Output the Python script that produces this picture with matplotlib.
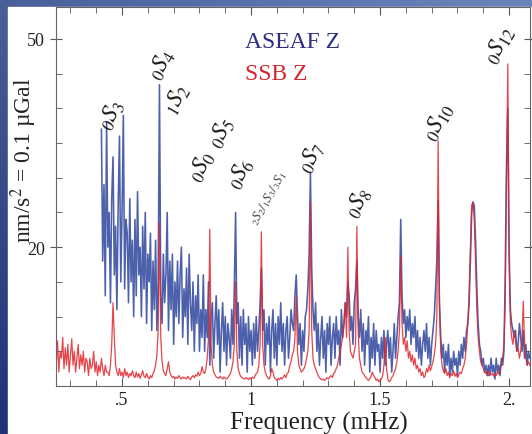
import numpy as np
import matplotlib.pyplot as plt
from matplotlib.ticker import MultipleLocator, FixedLocator, FixedFormatter

plt.rcParams['font.family'] = ['Liberation Serif', 'DejaVu Serif']
plt.rcParams['mathtext.fontset'] = 'stix'

# spectra sampled every 0.005 mHz
STEP = 0.005
ASEAF_START = 0.42
SSB_START = 0.245

# ASEAF Z amplitude (nm/s^2), 0.42 .. 2.08 mHz
aseaf_z = [
    37, 18, 29, 13, 38, 20, 25, 12, 27, 33, 16, 23, 11, 26, 36, 15, 25, 39, 14, 24,
    22, 12, 27, 15, 21, 10, 24, 13, 28, 16, 20, 10, 23, 14, 25, 9, 19, 15, 22, 8,
    18, 11, 21, 8, 15, 43.4, 13, 9, 19, 12, 16, 25, 8, 18, 11, 19, 6, 15, 10, 18,
    9, 16, 20, 7, 14, 10, 17, 6, 19, 12, 8, 15, 5, 13, 9, 16, 5, 11, 7, 16,
    5, 11, 7, 15, 3, 10, 12, 4, 9, 13, 6, 11, 2, 8, 12, 5, 10, 3, 9, 7,
    4, 11, 6, 14, 25, 9, 12, 4, 10, 3, 11, 6, 9, 2, 10, 5, 8, 3, 9, 4,
    10, 5, 8, 12, 17, 8, 11, 3, 9, 6, 10, 2, 8, 11, 4, 9, 3, 10, 6, 12,
    5, 9, 3, 8, 10, 4, 7, 11, 9, 8, 13, 16, 10, 6, 9, 3, 8, 5, 10, 11,
    14, 19, 30.8, 17, 11, 8, 12, 5, 9, 3, 7, 10, 4, 8, 2, 9, 6, 10, 3, 7,
    9, 4, 10, 6, 8, 3, 11, 7, 9, 12, 10, 15, 13, 8, 10, 6, 12, 14, 18, 10,
    7, 11, 5, 9, 3, 8, 6, 10, 2, 7, 4, 9, 3, 8, 5, 6, 2, 7, 4, 8,
    3, 6, 8, 4, 7, 2, 5, 9, 4, 7, 10, 12, 24, 13, 9, 11, 7, 10, 8, 11,
    6, 9, 7, 10, 5, 8, 4, 7, 3, 6, 8, 5, 9, 4, 7, 3, 6, 8, 10, 14,
    18, 26.7, 12, 7, 4, 6, 2, 5, 3, 6, 1.5, 4, 2, 5, 3, 4, 1.5, 5, 3, 6,
    4, 7, 5, 8, 9, 12, 18, 25, 26.5, 26, 21, 14, 9, 6, 5, 3, 4, 2, 3, 1.5,
    3, 1.5, 4, 2, 3, 1, 4, 2, 3, 1.5, 4, 3, 5, 16, 32, 40, 20, 11, 9, 8,
    7, 8, 5, 6, 9, 7, 5, 8, 4, 6, 3, 5, 4,
]

# SSB Z amplitude (nm/s^2), 0.245 .. 2.08 mHz
ssb_z = [
    3, 6.5, 2, 5, 4, 7, 2.5, 5.5, 3, 6, 2, 4.5, 6.8, 3, 5, 2, 4, 6, 2.5, 4.5,
    3, 5, 2, 4, 3.5, 1.5, 4, 2.5, 3, 5, 2, 3.5, 1.5, 3, 2, 4, 2.5, 1.5, 3, 2,
    2, 1.5, 3, 6, 12, 7, 3, 2, 1.5, 2.5, 1.5, 2, 1.2, 2.5, 1.5, 2, 1.2, 1.8, 1.5, 2.2,
    1.5, 1.2, 2, 1.3, 1.8, 1.1, 1.6, 2.2, 1.4, 1.2, 1.8, 1.3, 1, 1.5, 1.2, 1.8, 2.2, 3, 4.5, 8,
    23.5, 7, 3.5, 2.2, 1.8, 1.5, 2.5, 3.5, 2, 1.5, 1.2, 1.4, 1, 1.3, 1.1, 1.5, 1.2, 1, 1.3, 1.1,
    1.2, 1, 1.4, 1.1, 0.9, 1.3, 1.5, 1.2, 1.6, 1.4, 2, 1.5, 1.8, 2.8, 2, 1.8, 2.5, 4, 7, 22.6,
    6, 3, 2, 1.6, 1.3, 1.2, 1.1, 1.4, 1.2, 1, 1.3, 1.1, 1, 1.2, 1.5, 1.8, 2.5, 3.5, 6, 15,
    5, 2.5, 1.8, 1.4, 1.2, 1.1, 1, 1.2, 1.1, 0.9, 1.2, 1, 1.3, 1.1, 1.4, 1.8, 2, 3, 6, 22.2,
    6, 3, 2, 1.5, 1.2, 1, 1.5, 2.5, 2, 1.2, 1, 0.8, 1.1, 0.9, 1.2, 1, 1.3, 1.6, 1.2, 1.8,
    2, 3, 3.5, 4.5, 5, 7, 13, 5, 3, 2.5, 2, 2.2, 2.5, 3, 4, 5, 8, 26.5, 8, 4,
    3, 2.5, 2, 1.5, 1.2, 1, 0.9, 1, 0.8, 1, 1.2, 1, 1.3, 1.5, 1.2, 1.8, 2, 2.5, 3, 4,
    5, 6, 7, 9, 12, 7, 20, 8, 5, 4.5, 4, 5, 6, 23, 8, 4, 3, 2, 1.8, 1.5,
    1.2, 1, 0.8, 1.1, 1.4, 2, 1.5, 1.2, 0.8, 1, 0.6, 0.8, 1, 1.5, 3, 7, 2.5, 1, 0.6, 0.8,
    1.2, 1.5, 2, 2.5, 3.5, 5, 8, 18.7, 9, 6, 7, 5, 6.5, 4, 5, 3.5, 4.5, 3, 4, 2.5,
    3, 2, 2.5, 1.5, 2, 1.2, 1.5, 2.5, 2, 3, 2.2, 2.8, 3.5, 4.5, 6, 10, 35.3, 12, 5, 3,
    2.2, 1.8, 2.5, 1.5, 2, 1.2, 1.8, 1.5, 2.2, 1.4, 1.8, 1.2, 1.6, 2, 1.8, 2.5, 3, 4, 6, 9,
    13, 20, 26, 26.5, 24, 18, 11, 7, 5, 3.5, 3, 2.5, 2, 1.8, 2.2, 1.5, 2, 1.6, 1.8, 1.4,
    1.8, 1.5, 2, 1.7, 2.5, 3, 4, 6, 12, 30, 46.4, 18, 9, 7, 6, 8, 6.5, 5, 5.5, 4,
    5, 7, 12.2, 6, 4, 3, 3.5, 3,
]

# mode labels: (text, frequency, height, fontsize)
mode_labels = [
    (r'${}_{0}S_{3}$', 0.461, 39.2, 17),
    (r'${}_{0}S_{4}$', 0.655, 46.4, 17),
    (r'${}_{1}S_{2}$', 0.713, 41.4, 17),
    (r'${}_{0}S_{0}$', 0.810, 31.7, 17),
    (r'${}_{0}S_{5}$', 0.884, 36.6, 17),
    (r'${}_{0}S_{6}$', 0.961, 30.8, 17),
    (r'${}_{2}S_{2}/{}_{1}S_{3}/{}_{3}S_{1}$', 1.066, 27.2, 9.5),
    (r'${}_{0}S_{7}$', 1.236, 33.0, 17),
    (r'${}_{0}S_{8}$', 1.415, 26.5, 17),
    (r'${}_{0}S_{10}$', 1.729, 38.2, 17),
    (r'${}_{0}S_{12}$', 1.965, 49.3, 17),
]

f_aseaf = ASEAF_START + STEP * np.arange(len(aseaf_z))
f_ssb = SSB_START + STEP * np.arange(len(ssb_z))

W, H = 532, 435
fig = plt.figure(figsize=(W / 100, H / 100), dpi=100)

# slide background: blue frame on top/left, white panel
bg = fig.add_axes([0, 0, 1, 1])
gy, gx = np.mgrid[0:1:200j, 0:1:200j]
grad = 0.55 * gy + 0.45 * (1 - gx)
bg.imshow(grad, cmap=plt.matplotlib.colors.LinearSegmentedColormap.from_list(
    'slide', ['#6d84bb', '#1d3374']), extent=[0, 1, 0, 1], aspect='auto')
bg.add_patch(plt.Rectangle((8 / W, 0), 1, 1 - 8 / H, color='white'))
bg.set_xlim(0, 1)
bg.set_ylim(0, 1)
bg.axis('off')

ax = fig.add_axes([56 / W, 48 / H, (530 - 56) / W, (387 - 8) / H])
ax.plot(f_aseaf, aseaf_z, color='#3a4fa3', lw=1.15, alpha=0.9)
ax.plot(f_ssb, ssb_z, color='#e0252b', lw=0.9, alpha=0.85)

ax.set_xlim(0.244, 2.081)
ax.set_ylim(0, 54.6)

ax.xaxis.set_major_locator(FixedLocator([0.5, 1.0, 1.5, 2.0]))
ax.xaxis.set_major_formatter(FixedFormatter(['.5', '1', '1.5', '2.']))
ax.xaxis.set_minor_locator(MultipleLocator(0.1))
ax.yaxis.set_major_locator(FixedLocator([20, 50]))
ax.yaxis.set_minor_locator(MultipleLocator(5))

ax.tick_params(which='both', direction='in', top=True, right=True,
               colors='#555555', labelcolor='#222222', labelsize=13)
ax.tick_params(which='major', length=6)
ax.tick_params(which='minor', length=4)
ax.tick_params(axis='y', which='major', direction='inout', length=9)
for s in ax.spines.values():
    s.set_color('#666666')
    s.set_linewidth(0.8)

for txt, fx, fy, fs in mode_labels:
    ax.text(fx, fy, txt, fontsize=fs, rotation=60, ha='center', va='center',
            color='#1a1a1a' if fs > 10 else '#444444')

fig.text(245 / W, 1 - 43 / H, 'ASEAF Z', color='#2c2e83', fontsize=17,
         ha='left', va='center')
fig.text(245 / W, 1 - 75 / H, 'SSB Z', color='#d3272d', fontsize=17,
         ha='left', va='center')

fig.text(24 / W, 1 - 160 / H, 'nm/s$^2$ = 0.1 µGal', rotation=90,
         fontsize=17, ha='center', va='center', color='#222222')
fig.text(319 / W, 1 - 423 / H, 'Frequency (mHz)', fontsize=18,
         ha='center', va='center', color='#222222')

fig.savefig('out.png', dpi=100)
